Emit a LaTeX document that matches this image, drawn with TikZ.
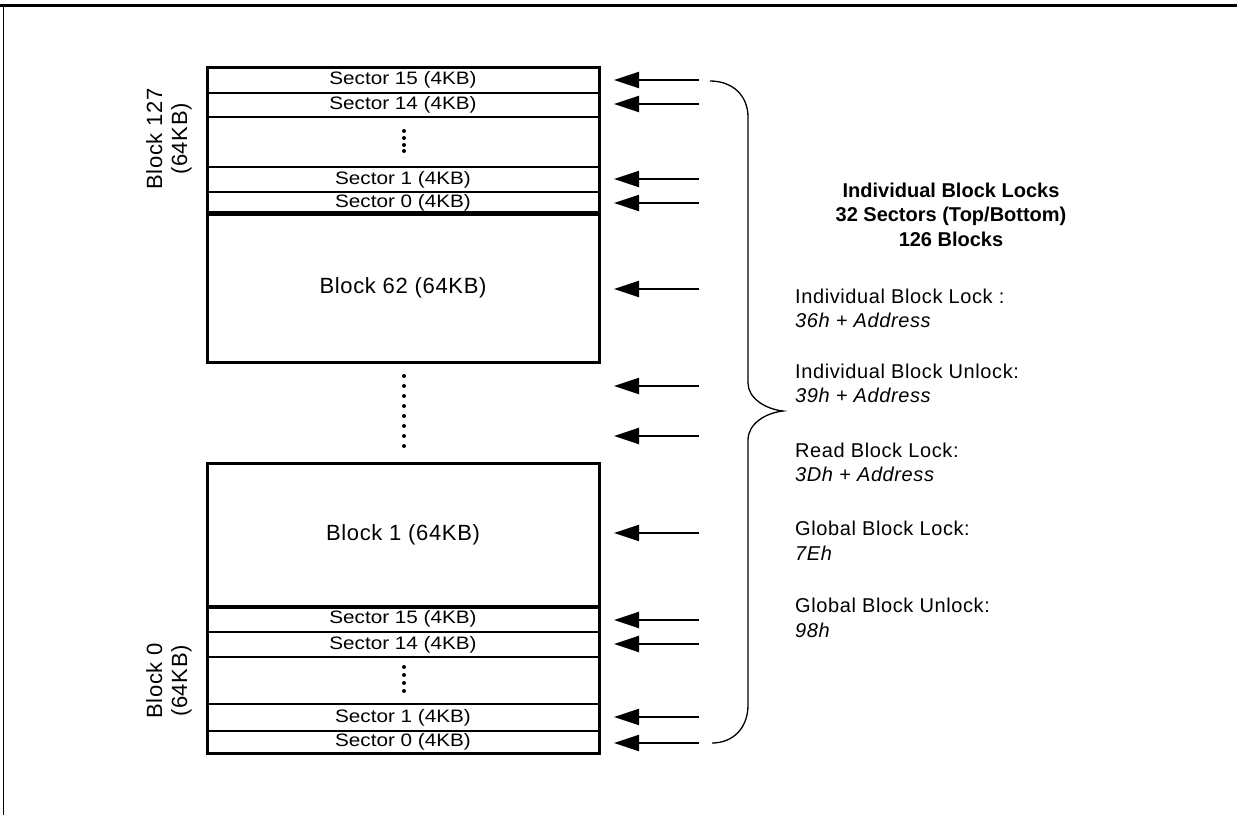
\documentclass[tikz,border=0pt]{standalone}
\usepackage{fontspec}
\usepackage{graphicx}
\setmainfont{Liberation Sans}
\newfontfamily\widesans[LetterSpace=3]{Liberation Sans}
\usetikzlibrary{arrows.meta}
\newcommand{\secttxt}[1]{\scalebox{1.15}[1]{#1}}
\begin{document}
\begin{tikzpicture}[x=1pt,y=-1pt,
  sec/.style={draw, line width=1.5pt, minimum width=392pt, inner sep=0pt, font=\fontsize{18}{20}\selectfont},
  blk/.style={draw, line width=3pt, minimum width=392pt, inner sep=0pt, font=\widesans\fontsize{22}{26}\selectfont},
  frame/.style={draw, line width=3pt, minimum width=392pt, inner sep=0pt},
  sep/.style={line width=3pt},
  arr/.style={line width=2pt, -{Triangle[length=25pt,width=16pt]}},
  desc/.style={anchor=base west, inner sep=0pt, font=\widesans\fontsize{20}{24}\selectfont},
  side/.style={rotate=90, align=center, inner sep=0pt, font=\widesans\fontsize{22}{25}\selectfont},
  vdot/.style={fill=black},
  brace/.style={line width=1.3pt}
]
\useasboundingbox (0,0) rectangle (1237,815);
% outer frame
\draw[line width=3pt] (0,5) -- (1237,5);
\draw[line width=1pt] (3,5) -- (3,815);

% ---- Block 127 ----
\node[sec, minimum height=26pt] (s15t) at (403,80) {\secttxt{Sector 15 (4KB)}};
\node[sec, minimum height=24pt] (s14t) at (403,105) {\secttxt{Sector 14 (4KB)}};
\node[sec, minimum height=25pt] (s1t) at (403,179.5) {\secttxt{Sector 1 (4KB)}};
\node[sec, minimum height=22pt] (s0t) at (403,203) {\secttxt{Sector 0 (4KB)}};
\node[blk, minimum height=148pt] (b62) at (403,288) {Block 62 (64KB)};
\node[frame, minimum height=295pt] (b127) at (403,214.5) {};
\draw[sep] (b62.north west) -- (b62.north east);
\foreach \yy in {131,138,145,151} \fill[vdot] (404,\yy) circle (2pt);

% middle dots
\foreach \yy in {376,386,396,406,416,426,436,446} \fill[vdot] (404,\yy) circle (2pt);

% ---- Block 0 ----
\node[blk, minimum height=143pt] (b1) at (403,534.5) {Block 1 (64KB)};
\node[sec, minimum height=26pt] (s15b) at (403,619) {\secttxt{Sector 15 (4KB)}};
\node[sec, minimum height=25pt] (s14b) at (403,644.5) {\secttxt{Sector 14 (4KB)}};
\node[sec, minimum height=27pt] (s1b) at (403,717.5) {\secttxt{Sector 1 (4KB)}};
\node[sec, minimum height=22pt] (s0b) at (403,742) {\secttxt{Sector 0 (4KB)}};
\node[frame, minimum height=290pt] (b0) at (403,608) {};
\draw[sep] (b1.south west) -- (b1.south east);
\foreach \yy in {667,675,683,691} \fill[vdot] (404,\yy) circle (2pt);

% side labels
\node[side] (l127) at (169,139) {Block 127\\(64KB)};
\node[side] (l0) at (169,681) {Block 0\\(64KB)};

% arrows
\foreach \i/\yy in {1/80,2/104,3/179,4/203,5/289,6/386,7/436,8/533,9/620,10/644,11/717,12/743} {
  \coordinate (src\i) at (699,\yy);
  \coordinate (tip\i) at (614,\yy);
  \draw[arr] (src\i) -- (tip\i);
}

% brace
\coordinate (bt) at (710,81);
\coordinate (bm) at (783,411);
\coordinate (bb) at (712,743);
\draw[brace] (bt) .. controls (733,81) and (748,96) .. (748,117)
  -- (748,383) .. controls (748,398) and (765,409) .. (bm)
  .. controls (765,413) and (748,424) .. (748,440)
  -- (748,705) .. controls (748,728) and (733,743) .. (bb);

% title
\node[align=center, inner sep=0pt, anchor=base, font=\fontsize{20}{24.5}\bfseries\selectfont] (title) at (951,246)
  {Individual Block Locks\\32 Sectors (Top/Bottom)\\126 Blocks};

% descriptions
\node[desc] (d1) at (795,303) {Individual Block Lock :};
\node[desc] (d1a) at (795,327) {\itshape 36h + Address};
\node[desc] (d2) at (795,378) {Individual Block Unlock:};
\node[desc] (d2a) at (795,402) {\itshape 39h + Address};
\node[desc] (d3) at (795,457) {Read Block Lock:};
\node[desc] (d3a) at (795,481) {\itshape 3Dh + Address};
\node[desc] (d4) at (795,535) {Global Block Lock:};
\node[desc] (d4a) at (795,560) {\itshape 7Eh};
\node[desc] (d5) at (795,612) {Global Block Unlock:};
\node[desc] (d5a) at (795,637) {\itshape 98h};
\end{tikzpicture}
\end{document}
